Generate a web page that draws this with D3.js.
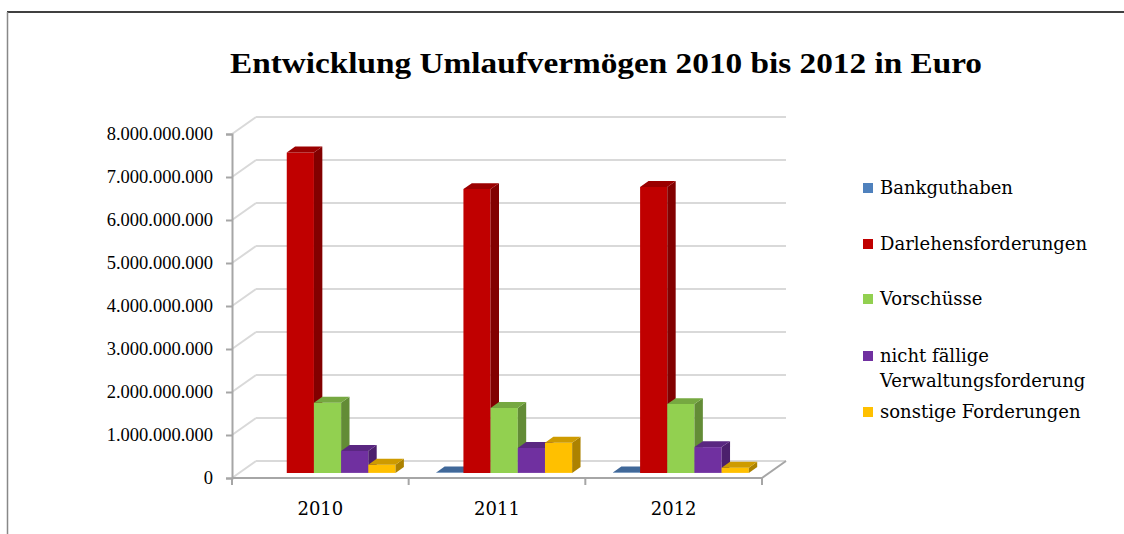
<!DOCTYPE html>
<html><head><meta charset="utf-8">
<script src="https://cdn.jsdelivr.net/npm/d3@7"></script>
<style>html,body{margin:0;padding:0;background:#fff;}</style>
</head><body>
<svg id="c" width="1124" height="534"></svg>
<script>
const categories = ["2010", "2011", "2012"];
const seriesNames = ["Bankguthaben", "Darlehensforderungen", "Vorschüsse", "nicht fällige Verwaltungsforderung", "sonstige Forderungen"];
const legendLines = [["Bankguthaben"], ["Darlehensforderungen"], ["Vorschüsse"], ["nicht fällige", "Verwaltungsforderung"], ["sonstige Forderungen"]];
const seriesColors = ["#4F81BD", "#C00000", "#92D050", "#7030A0", "#FFC000"];
const bankguthaben = [null, 8e6, 8e6];
const darlehensforderungen = [7.45e9, 6.6e9, 6.65e9];
const vorschuesse = [1.63e9, 1.51e9, 1.60e9];
const nichtFaellige = [0.51e9, 0.58e9, 0.60e9];
const sonstige = [0.19e9, 0.70e9, 0.12e9];
const yTicks = [0, 1e9, 2e9, 3e9, 4e9, 5e9, 6e9, 7e9, 8e9];
const title = "Entwicklung Umlaufvermögen 2010 bis 2012 in Euro";

const seriesValues = [bankguthaben, darlehensforderungen, vorschuesse, nichtFaellige, sonstige];

const svg = d3.select("#c");
const serif = "'DejaVu Serif', serif";

// frame
svg.append("line").attr("x1", 7).attr("x2", 1124).attr("y1", 12).attr("y2", 12).attr("stroke", "#000").attr("stroke-width", 1.5);
svg.append("line").attr("x1", 7.5).attr("x2", 7.5).attr("y1", 12).attr("y2", 534).attr("stroke", "#888").attr("stroke-width", 1.5);

// title
svg.append("text").attr("x", 606).attr("y", 73).attr("text-anchor", "middle")
  .attr("font-family", "'Liberation Serif', serif").attr("font-weight", "bold").attr("font-size", 30)
  .attr("textLength", 752).attr("lengthAdjust", "spacingAndGlyphs").text(title);

// geometry
const x0 = d3.scaleBand().domain(categories).range([232, 762]);
const x1 = d3.scaleBand().domain(seriesNames).range([0, x0.bandwidth()]).paddingInner(0).paddingOuter(0.75);
const y = d3.scaleLinear().domain([0, 8e9]).range([478, 134]);
const DX = 24, DY = -17; // full depth vector
const dFront = 0.3, dBack = 0.65;

const grid = "#d9d9d9";
yTicks.forEach(t => {
  const yy = y(t);
  svg.append("line").attr("x1", 232 + DX).attr("y1", yy + DY).attr("x2", 762 + DX).attr("y2", yy + DY)
    .attr("stroke", grid).attr("stroke-width", 2);
  svg.append("line").attr("x1", 232).attr("y1", yy).attr("x2", 232 + DX).attr("y2", yy + DY)
    .attr("stroke", grid).attr("stroke-width", 2);
});

// floor edges
svg.append("line").attr("x1", 232).attr("y1", y(0)).attr("x2", 762).attr("y2", y(0)).attr("stroke", "#a6a6a6").attr("stroke-width", 2);
svg.append("line").attr("x1", 762).attr("y1", y(0)).attr("x2", 762 + DX).attr("y2", y(0) + DY).attr("stroke", "#a6a6a6").attr("stroke-width", 2);

// y axis
const fmt = d3.formatLocale({decimal: ",", thousands: ".", grouping: [3], currency: ["", "€"]}).format(",.0f");
const yAxis = svg.append("g").attr("transform", "translate(232,0)")
  .call(d3.axisLeft(y).tickValues(yTicks).tickFormat(fmt).tickSize(6).tickPadding(13));
yAxis.select(".domain").attr("stroke", "#a6a6a6").attr("stroke-width", 2);
yAxis.selectAll(".tick line").attr("stroke", "#a6a6a6").attr("stroke-width", 2);
yAxis.selectAll("text").attr("font-family", "'Liberation Serif', serif").attr("font-size", 18.5).attr("fill", "#000");

// x axis
const xAxis = svg.append("g").attr("transform", `translate(0,${y(0)})`)
  .call(d3.axisBottom(x0).tickSize(0).tickPadding(24));
xAxis.select(".domain").remove();
xAxis.selectAll("text").attr("font-family", serif).attr("font-size", 18).attr("fill", "#000");
const bounds = categories.map(c => x0(c)).concat([x0.range()[1]]);
svg.selectAll(".xt").data(bounds).enter().append("line")
  .attr("x1", d => d).attr("x2", d => d).attr("y1", y(0)).attr("y2", y(0) + 7)
  .attr("stroke", "#a6a6a6").attr("stroke-width", 2);

// bars
const bw = x1.bandwidth();
const fx = DX * dFront, fy = DY * dFront;
const bdx = DX * (dBack - dFront), bdy = DY * (dBack - dFront);
const pts = a => a.map(p => p.join(",")).join(" ");
categories.forEach((c, ci) => {
  seriesNames.forEach((s, si) => {
    const v = seriesValues[si][ci];
    if (v == null) return;
    const col = d3.color(seriesColors[si]);
    const xl = x0(c) + x1(s) + fx, xr = xl + bw;
    const yb = y(0) + fy, yt = y(v) + fy;
    const g = svg.append("g");
    g.append("polygon").attr("points", pts([[xl, yb], [xr, yb], [xr, yt], [xl, yt]])).attr("fill", col.formatHex());
    g.append("polygon").attr("points", pts([[xr, yb], [xr + bdx, yb + bdy], [xr + bdx, yt + bdy], [xr, yt]])).attr("fill", col.darker(1.1).formatHex());
    g.append("polygon").attr("points", pts([[xl, yt], [xr, yt], [xr + bdx, yt + bdy], [xl + bdx, yt + bdy]])).attr("fill", col.darker(0.6).formatHex());
  });
});

// legend
const legY = [188, 244, 299, 356, 412];
seriesNames.forEach((s, i) => {
  svg.append("rect").attr("x", 863).attr("y", legY[i] - 5).attr("width", 10).attr("height", 10).attr("fill", seriesColors[i]);
  const t = svg.append("text").attr("x", 880).attr("y", legY[i] + 6).attr("font-family", serif).attr("font-size", 18).attr("fill", "#000");
  legendLines[i].forEach((ln, li) => {
    t.append("tspan").attr("x", 880).attr("dy", li === 0 ? 0 : 25).text(ln);
  });
});
</script>
</body></html>
